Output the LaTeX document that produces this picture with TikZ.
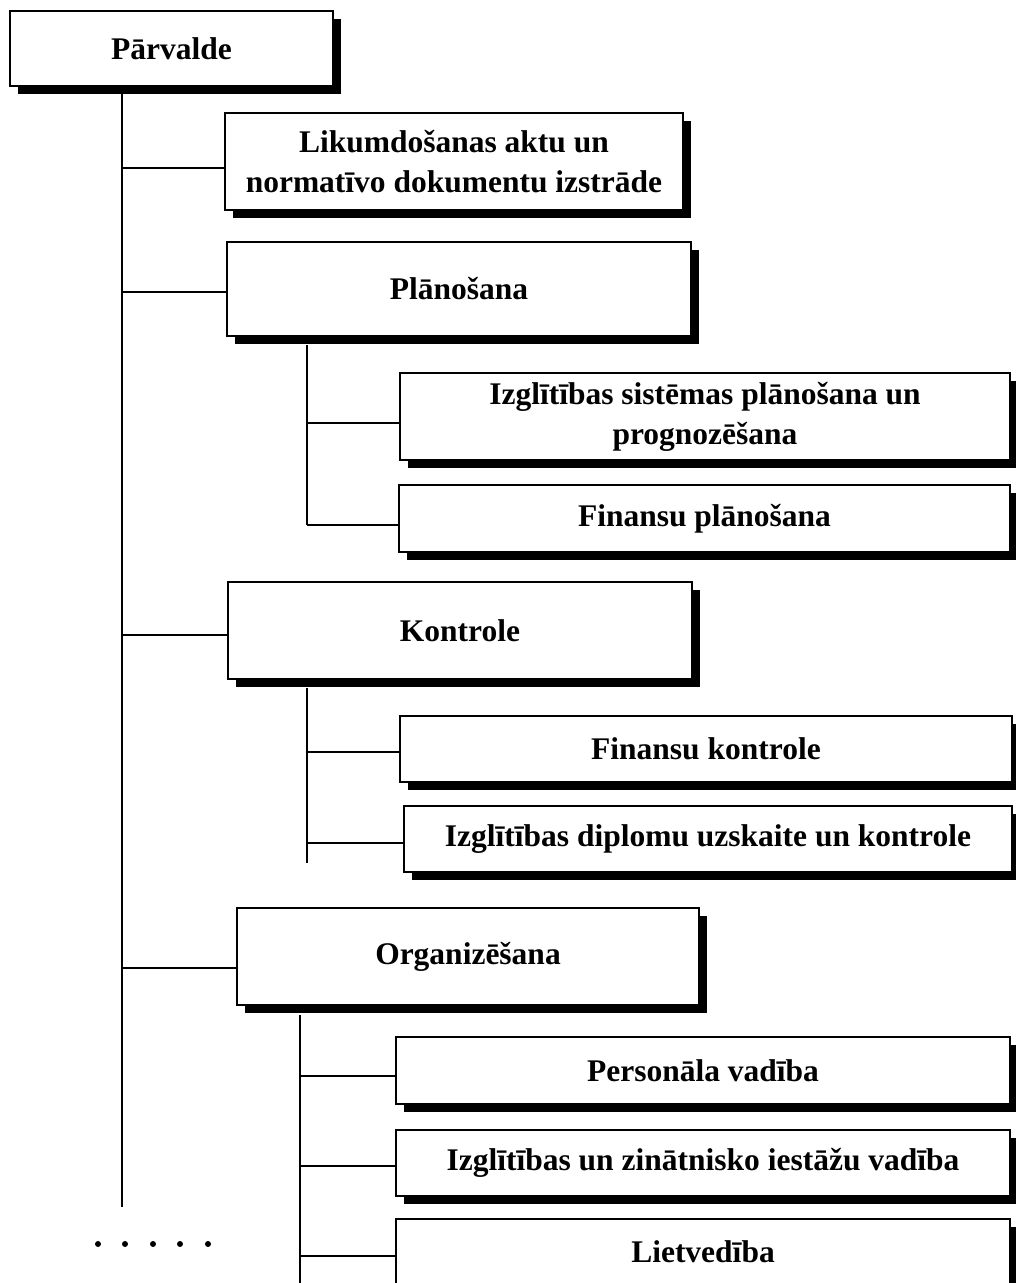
\documentclass[tikz,border=0pt]{standalone}
\usepackage{fontspec}
\setmainfont{Liberation Serif}
\usetikzlibrary{shadows}
\begin{document}
\begin{tikzpicture}[x=1pt,y=-1pt,
  box/.style={draw=black, line width=2pt, fill=white, inner sep=0pt, align=center,
    font=\fontsize{31.5}{40}\selectfont\bfseries,
    general shadow={fill=black, shadow xshift=8pt, shadow yshift=-8pt}},
  link/.style={draw=black, line width=2pt}]
\useasboundingbox (0,0) rectangle (1016,1283);
\clip (0,0) rectangle (1016,1283);

% top level
\node[box, minimum width=323, minimum height=75] (parv) at (171.5,48.5) {Pārvalde};

% first level
\node[box, minimum width=458, minimum height=97] (lik) at (454,161.5)
  {Likumdošanas aktu un\\normatīvo dokumentu izstrāde};
\node[box, minimum width=464, minimum height=94] (plan) at (459,289) {Plānošana};
\node[box, minimum width=464, minimum height=97] (kontr) at (460,630.5) {Kontrole};
\node[box, minimum width=462, minimum height=97] (org) at (468,956.5) {Organizēšana};

% second level
\node[box, minimum width=610, minimum height=87] (izsis) at (705,416.5)
  {Izglītības sistēmas plānošana un\\prognozēšana};
\node[box, minimum width=611, minimum height=67] (finplan) at (704.5,518.5) {Finansu plānošana};
\node[box, minimum width=612, minimum height=66] (finkontr) at (706,749) {Finansu kontrole};
\node[box, minimum width=608, minimum height=66] (diplom) at (708,839)
  {Izglītības diplomu uzskaite un kontrole};
\node[box, minimum width=614, minimum height=67] (pers) at (703,1070.5) {Personāla vadība};
\node[box, minimum width=614, minimum height=66] (izzin) at (703,1163)
  {Izglītības un zinātnisko iestāžu vadība};
\node[box, minimum width=614, minimum height=66] (liet) at (703,1252) {Lietvedība};

% main trunk
\coordinate (trunkend) at (122,1207);
\draw[link] (parv.south -| trunkend) -- (trunkend);
\coordinate (jLik) at (122,168);
\coordinate (jPlan) at (122,292);
\coordinate (jKontr) at (122,635);
\coordinate (jOrg) at (122,968);
\draw[link] (jLik) -- (jLik -| lik.west);
\draw[link] (jPlan) -- (jPlan -| plan.west);
\draw[link] (jKontr) -- (jKontr -| kontr.west);
\draw[link] (jOrg) -- (jOrg -| org.west);

% planning branch
\coordinate (pTop) at (307,345);
\coordinate (pBot) at (307,525);
\coordinate (jIzsis) at (307,423);
\draw[link] (pTop) -- (pBot);
\draw[link] (jIzsis) -- (jIzsis -| izsis.west);
\draw[link] (pBot) -- (pBot -| finplan.west);

% control branch
\coordinate (kTop) at (307,688);
\coordinate (kBot) at (307,863);
\coordinate (jFink) at (307,752);
\coordinate (jDipl) at (307,843);
\draw[link] (kTop) -- (kBot);
\draw[link] (jFink) -- (jFink -| finkontr.west);
\draw[link] (jDipl) -- (jDipl -| diplom.west);

% organisation branch
\coordinate (oTop) at (300,1015);
\coordinate (oBot) at (300,1295);
\coordinate (jPers) at (300,1076);
\coordinate (jIzzin) at (300,1166);
\coordinate (jLiet) at (300,1256);
\draw[link] (oTop) -- (oBot);
\draw[link] (jPers) -- (jPers -| pers.west);
\draw[link] (jIzzin) -- (jIzzin -| izzin.west);
\draw[link] (jLiet) -- (jLiet -| liet.west);

% continuation dots
\foreach \x in {98,125,153,180,208}
  \fill (\x,1244) circle[radius=3pt];
\end{tikzpicture}
\end{document}
